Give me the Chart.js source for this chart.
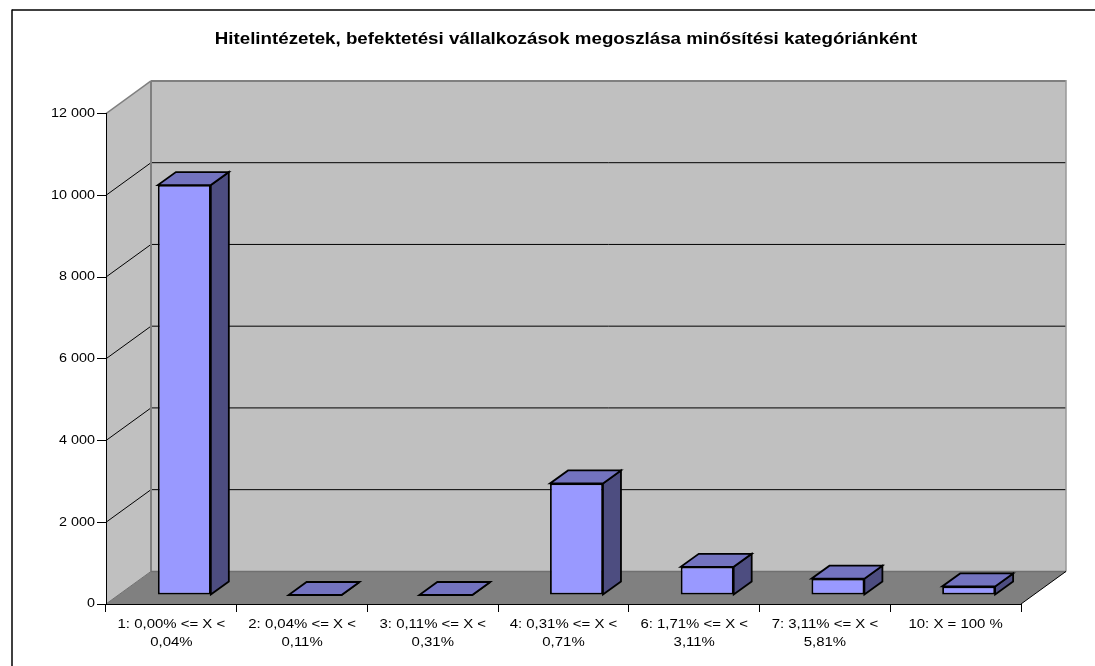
<!DOCTYPE html>
<html><head><meta charset="utf-8">
<style>html,body{margin:0;padding:0;background:#fff;overflow:hidden}canvas{display:block}</style>
<script src="https://cdn.jsdelivr.net/npm/chart.js@4"></script>
</head><body><div style="width:1095px;height:666px"><canvas id="c"></canvas></div>
<script>
const titleText = 'Hitelintézetek, befektetési vállalkozások megoszlása minősítési kategóriánként';
const categories = [
  ['1: 0,00% <= X <','0,04%'],
  ['2: 0,04% <= X <','0,11%'],
  ['3: 0,11% <= X <','0,31%'],
  ['4: 0,31% <= X <','0,71%'],
  ['6: 1,71% <= X <','3,11%'],
  ['7: 3,11% <= X <','5,81%'],
  '10: X = 100 %'
];
const values = [10030, 0, 0, 2730, 690, 400, 210];
const yTicks = [0, 2000, 4000, 6000, 8000, 10000, 12000];

const DX = 45, DY = 32.6;    // wall depth
const BX = 13, BY = 9;       // bar offset from the front of the floor
const SX = 18, SY = 13;      // bar depth
const WALL='#C0C0C0', FLOOR='#808080', EDGE='#808080';
const FRONT='#9999FF', TOP='#7373BF', SIDE='#4D4D80';
const STRETCH = 1.15;        // the reference's text is horizontally wide

function poly(ctx, pts, fill, stroke, lw){
  ctx.beginPath();
  pts.forEach((p,i)=> i?ctx.lineTo(p[0],p[1]):ctx.moveTo(p[0],p[1]));
  ctx.closePath();
  if(fill){ctx.fillStyle=fill;ctx.fill();}
  if(stroke){ctx.strokeStyle=stroke;ctx.lineWidth=lw;ctx.lineJoin='miter';ctx.stroke();}
}
function seg(ctx,x1,y1,x2,y2,c,lw){
  ctx.beginPath();ctx.moveTo(x1,y1);ctx.lineTo(x2,y2);ctx.strokeStyle=c;ctx.lineWidth=lw;ctx.stroke();
}
const scene = {
  id:'scene',
  afterLayout(chart){
    const t=chart.titleBlock; t.left+=2.5; t.right+=2.5;
  },
  beforeDraw(chart){
    const {ctx}=chart; const x=chart.scales.x, y=chart.scales.y;
    ctx.save();
    seg(ctx,12,10,1095,10,'#000',1.5);
    seg(ctx,12,9.5,12,666,'#000',1.5);
    const l=x.left,r=x.right,b=y.getPixelForValue(0),t=y.getPixelForValue(12000);
    poly(ctx,[[l,b],[l+DX,b-DY],[l+DX,t-DY],[l,t]],WALL);
    poly(ctx,[[l+DX,b-DY],[r+DX,b-DY],[r+DX,t-DY],[l+DX,t-DY]],WALL);
    poly(ctx,[[l,b],[r,b],[r+DX,b-DY],[l+DX,b-DY]],FLOOR);
    yTicks.forEach(v=>{
      const p=y.getPixelForValue(v);
      if(v>0&&v<12000){
        seg(ctx,l,p,l+DX,p-DY,'#000',1);
        seg(ctx,l+DX,p-DY,r+DX,p-DY,'#000',1);
      }
    });
    seg(ctx,l,t,l+DX,t-DY,EDGE,1.5);
    seg(ctx,l+DX,t-DY,r+DX,t-DY,EDGE,2);
    seg(ctx,l+DX,t-DY,l+DX,b-DY,EDGE,2);
    seg(ctx,r+DX,t-DY-1,r+DX,b-DY,'#999',1.5);
    seg(ctx,l+DX,b-DY,r+DX,b-DY,'#707070',1.5);
    seg(ctx,l,b,l+DX,b-DY,'#707070',1);
    seg(ctx,r,b,r+DX,b-DY,'#000',1);
    ctx.restore();
  },
  beforeDatasetDraw(chart,args){
    const {ctx}=chart; const meta=args.meta;
    ctx.save();
    meta.data.forEach(bar=>{
      const hw=bar.width/2, fx1=bar.x-hw+BX, fx2=bar.x+hw+BX, ft=bar.y-BY, fb=bar.base-BY;
      poly(ctx,[[fx2,ft],[fx2+SX,ft-SY],[fx2+SX,fb-SY],[fx2,fb]],SIDE,'#000',1.8);
      poly(ctx,[[fx1,ft],[fx2,ft],[fx2+SX,ft-SY],[fx1+SX,ft-SY]],TOP,'#000',1.8);
    });
    ctx.translate(BX,-BY);
  },
  afterDatasetDraw(chart){ chart.ctx.restore(); }
};
const canvas=document.getElementById('c');
const rawCtx=canvas.getContext('2d');
const rawFill=rawCtx.fillText;
rawCtx.fillText=function(t,x,y,m){
  this.save();
  this.translate(x*(1-STRETCH),0);
  this.scale(STRETCH,1);
  if(m===undefined) rawFill.call(this,t,x,y); else rawFill.call(this,t,x,y,m);
  this.restore();
};
new Chart(canvas,{
  type:'bar',
  data:{labels:categories,datasets:[{
    data:values,backgroundColor:FRONT,borderColor:'#000',borderWidth:1.8,borderSkipped:false,
    barPercentage:1,categoryPercentage:0.405,clip:false
  }]},
  plugins:[scene],
  options:{
    responsive:true,maintainAspectRatio:false,animation:false,
    layout:{padding:{left:20,right:74,top:0,bottom:0}},
    plugins:{
      legend:{display:false},tooltip:{enabled:false},
      title:{display:true,text:titleText,fullSize:false,color:'#000',
        font:{family:'"Liberation Sans",Arial,sans-serif',size:16.3,weight:'bold'},
        padding:{top:30,bottom:64}}
    },
    scales:{
      x:{
        grid:{drawOnChartArea:false,drawTicks:true,tickLength:8,color:'#000',lineWidth:1},
        border:{display:true,color:'#000',width:1},
        ticks:{color:'#000',maxRotation:0,minRotation:0,autoSkip:false,padding:4,
          font:{family:'"Liberation Sans",Arial,sans-serif',size:13,lineHeight:1.35}},
        afterFit(s){s.height=62;}
      },
      y:{
        min:0,max:12000,
        afterBuildTicks(s){s.ticks=yTicks.map(v=>({value:v}));},
        grid:{drawOnChartArea:false,drawTicks:true,tickLength:9,color:'#000',lineWidth:1},
        border:{display:true,color:'#000',width:1},
        ticks:{color:'#000',padding:2,
          font:{family:'"Liberation Sans",Arial,sans-serif',size:12.5},
          callback:v=>String(v).replace(/\B(?=(\d{3})+$)/g,' ')},
        afterFit(s){s.width=86;}
      }
    }
  }
});
</script></body></html>
